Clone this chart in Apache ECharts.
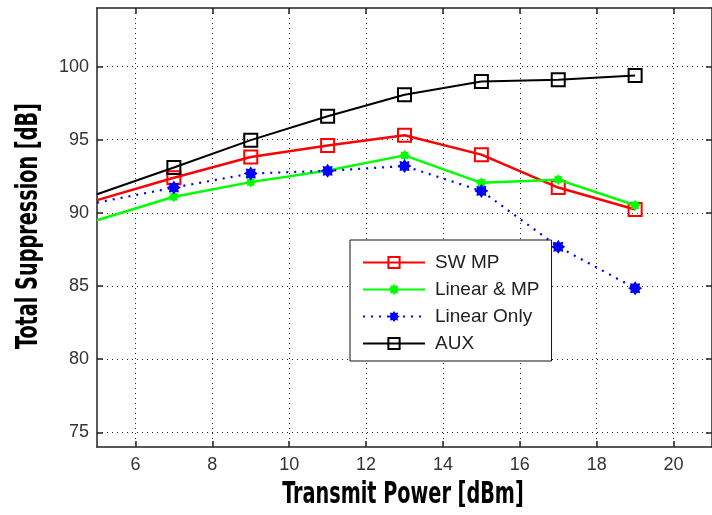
<!DOCTYPE html>
<html>
<head>
<meta charset="utf-8">
<script src="https://cdn.jsdelivr.net/npm/echarts@6/dist/echarts.min.js"></script>
<style>
html,body{margin:0;padding:0;background:#fff;}
#chart{width:712px;height:515px;}
</style>
</head>
<body>
<div id="chart"></div>
<script>
// ---- data ----
var xValues = [5, 7, 9, 11, 13, 15, 17, 19];
var swMp = [90.87, 92.4, 93.82, 94.61, 95.3, 93.98, 91.73, 90.23];
var linearMp = [89.5, 91.1, 92.1, 92.9, 93.93, 92.05, 92.27, 90.52];
var linearOnly = [90.7, 91.73, 92.69, 92.87, 93.2, 91.5, 87.68, 84.85];
var aux = [91.27, 93.1, 94.97, 96.6, 98.07, 98.98, 99.09, 99.39];
var xTicks = [6, 8, 10, 12, 14, 16, 18, 20];
var yTicks = [75, 80, 85, 90, 95, 100];
var seriesNames = ['SW MP', 'Linear & MP', 'Linear Only', 'AUX'];
var xTitle = 'Transmit Power [dBm]';
var yTitle = 'Total Suppression [dB]';

var starPath = 'path://M0,-10 L2.6,-6.3 L7.1,-7.1 L6.3,-2.6 L10,0 L6.3,2.6 L7.1,7.1 L2.6,6.3 L0,10 L-2.6,6.3 L-7.1,7.1 L-6.3,2.6 L-10,0 L-6.3,-2.6 L-7.1,-7.1 L-2.6,-6.3 Z';

function toData(vals) {
  return xValues.map(function (x, i) {
    var item = { value: [x, vals[i]] };
    if (i === 0) { item.symbol = 'none'; }
    return item;
  });
}

var tickFontFamily = '"Liberation Sans", Arial, sans-serif';
var titleFontCss = 'bold 31px "DejaVu Sans Condensed", "DejaVu Sans", sans-serif';
var gridLine = { show: true, lineStyle: { color: '#222', width: 1, type: [1, 4] } };
var boxLine = { show: true, onZero: false, lineStyle: { color: '#222', width: 1.5 } };
var tickStyle = { color: '#222', width: 1.5 };

var chart = echarts.init(document.getElementById('chart'));
chart.setOption({
  animation: false,
  backgroundColor: '#fff',
  grid: { left: 97, top: 8, width: 616, height: 439, containLabel: false },
  legend: {
    orient: 'vertical',
    left: 350, top: 240,
    backgroundColor: '#fff',
    borderColor: '#111', borderWidth: 1,
    padding: [13, 12, 8, 12],
    itemWidth: 62, itemHeight: 14, itemGap: 8,
    textStyle: { fontFamily: '"Liberation Sans", Arial, sans-serif', fontSize: 19, color: '#222', padding: [0, 0, 0, 5] },
    data: seriesNames
  },
  graphic: [{
    type: 'text', x: 403, y: 495, scaleX: 0.69,
    style: { text: xTitle, font: titleFontCss, fill: '#000', textAlign: 'center', textVerticalAlign: 'middle' }
  }, {
    type: 'text', x: 29, y: 226, rotation: Math.PI / 2, scaleX: 0.69,
    style: { text: yTitle, font: titleFontCss, fill: '#000', textAlign: 'center', textVerticalAlign: 'middle' }
  }],
  xAxis: [{
    type: 'value', min: 5, max: 21,
    position: 'bottom',
    axisLine: boxLine,
    axisTick: { show: true, inside: true, length: 6, customValues: xTicks, lineStyle: tickStyle },
    axisLabel: { customValues: xTicks, margin: 9, color: '#333', fontFamily: tickFontFamily, fontSize: 18 },
    splitLine: gridLine
  }, {
    type: 'value', min: 5, max: 21,
    position: 'top',
    axisLine: boxLine,
    axisTick: { show: true, inside: true, length: 6, customValues: xTicks, lineStyle: tickStyle },
    axisLabel: { show: false },
    splitLine: { show: false }
  }],
  yAxis: [{
    type: 'value', min: 74, max: 104,
    position: 'left',
    axisLine: boxLine,
    axisTick: { show: true, inside: true, length: 6, customValues: yTicks, lineStyle: tickStyle },
    axisLabel: { customValues: yTicks, margin: 8, color: '#333', fontFamily: tickFontFamily, fontSize: 18 },
    splitLine: gridLine
  }, {
    type: 'value', min: 74, max: 104,
    position: 'right',
    axisLine: boxLine,
    axisTick: { show: true, inside: true, length: 6, customValues: yTicks, lineStyle: tickStyle },
    axisLabel: { show: false },
    splitLine: { show: false }
  }],
  series: [{
    name: seriesNames[0], type: 'line',
    data: toData(swMp),
    symbol: 'rect', symbolSize: 13,
    lineStyle: { color: '#ff0000', width: 2.5 },
    itemStyle: { color: 'rgba(255,255,255,0)', borderColor: '#ff0000', borderWidth: 2 },
    z: 2
  }, {
    name: seriesNames[1], type: 'line',
    data: toData(linearMp),
    symbol: starPath, symbolSize: 11,
    lineStyle: { color: '#00ff00', width: 2.5 },
    itemStyle: { color: '#00ff00', borderColor: '#00ff00', borderWidth: 0 },
    z: 3
  }, {
    name: seriesNames[2], type: 'line',
    data: toData(linearOnly),
    symbol: starPath, symbolSize: 14,
    lineStyle: { color: '#0000ff', width: 2.2, type: [2, 6] },
    itemStyle: { color: '#0000ff', borderColor: '#0000ff', borderWidth: 0 },
    z: 4
  }, {
    name: seriesNames[3], type: 'line',
    data: toData(aux),
    symbol: 'rect', symbolSize: 13,
    lineStyle: { color: '#000000', width: 2 },
    itemStyle: { color: 'rgba(255,255,255,0)', borderColor: '#000000', borderWidth: 2 },
    z: 5
  }]
});
</script>
</body>
</html>
